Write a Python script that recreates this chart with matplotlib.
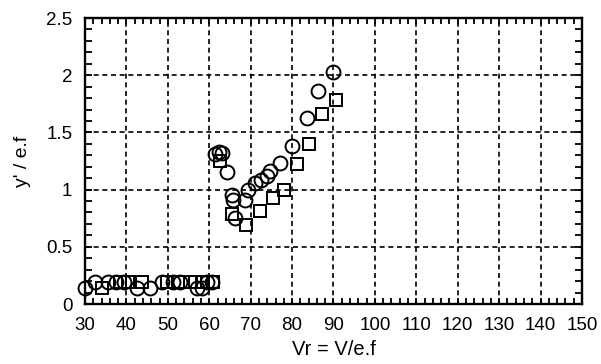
import matplotlib.pyplot as plt
from matplotlib.ticker import MultipleLocator

plt.rcParams['font.family'] = ['Liberation Sans', 'DejaVu Sans']

# circles
vr_c = [30.0, 32.4, 35.6, 37.5, 39.5, 42.6, 45.7, 48.6, 51.3, 53.0, 57.0, 58.3, 59.5, 60.7,
        61.5, 62.4, 63.0, 64.3, 65.5, 65.7, 66.3, 68.6, 69.4, 71.0, 72.6, 74.0, 74.6,
        77.0, 80.0, 83.6, 86.2, 90.0]
y_c = [0.14, 0.19, 0.19, 0.19, 0.19, 0.14, 0.14, 0.19, 0.19, 0.19, 0.14, 0.14, 0.19, 0.19,
       1.31, 1.33, 1.32, 1.15, 0.95, 0.91, 0.75, 0.91, 1.00, 1.06, 1.08, 1.12, 1.16,
       1.23, 1.38, 1.63, 1.86, 2.03]

# squares
vr_s = [34.0, 38.5, 40.5, 43.7, 49.8, 52.5, 55.4, 56.5, 58.5, 61.0,
        62.6, 65.6, 68.9, 72.3, 75.4, 78.1, 81.1, 84.1, 87.2, 90.6]
y_s = [0.14, 0.19, 0.19, 0.19, 0.19, 0.19, 0.19, 0.19, 0.19, 0.19,
       1.25, 0.79, 0.69, 0.81, 0.93, 1.00, 1.22, 1.40, 1.66, 1.78]

fig = plt.figure(figsize=(6.01, 3.64), dpi=100)
ax = fig.add_axes([0.1414, 0.1648, 0.8270, 0.7857])

ax.plot(vr_c, y_c, 'o', ms=10, mfc='none', mec='black', mew=1.4, clip_on=False, zorder=3)
ax.plot(vr_s, y_s, 's', ms=8.4, mfc='none', mec='black', mew=1.4, clip_on=False, zorder=3)

ax.set_xlim(30, 150)
ax.set_ylim(0, 2.5)
ax.xaxis.set_major_locator(MultipleLocator(10))
ax.xaxis.set_minor_locator(MultipleLocator(2))
ax.yaxis.set_major_locator(MultipleLocator(0.5))
ax.yaxis.set_minor_locator(MultipleLocator(0.1))
ax.set_yticks([0, 0.5, 1, 1.5, 2, 2.5])
ax.set_yticklabels(['0', '0.5', '1', '1.5', '2', '2.5'])

ax.grid(True, which='major', color='black', linestyle=(0, (3, 2.2)), linewidth=1.2)
ax.tick_params(which='both', direction='in', top=True, right=True, width=1.3,
               labelsize=13.5, colors='black')
ax.tick_params(axis='x', which='both', length=4, pad=9)
ax.tick_params(axis='y', which='both', length=5, pad=9)
for sp in ax.spines.values():
    sp.set_linewidth(1.7)

ax.set_xlabel('Vr = V/e.f', fontsize=14.5, labelpad=5)
ax.set_ylabel("y' / e.f", fontsize=14, labelpad=11)

fig.savefig('out.png', dpi=100)
